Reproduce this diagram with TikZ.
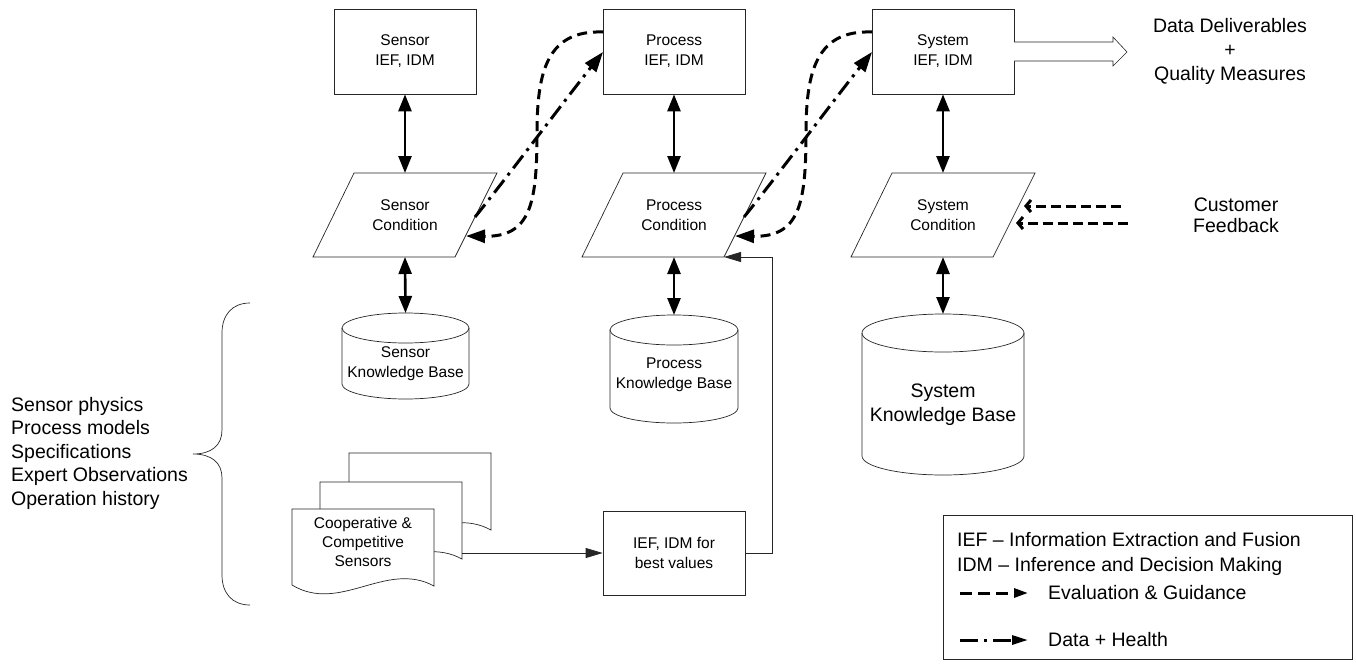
\documentclass[tikz,border=0pt]{standalone}
\usepackage{fontspec}
\setmainfont{Liberation Sans}
\usetikzlibrary{arrows.meta}
\begin{document}
\begin{tikzpicture}[x=1pt,y=-1pt,
  box/.style={draw=black!85, line width=0.7pt, fill=white, minimum width=142pt, minimum height=85pt, align=center, font=\fontsize{15.5}{20}\selectfont, inner sep=0pt},
  small/.style={align=center, font=\fontsize{15.5}{20}\selectfont, inner sep=0pt},
  big/.style={align=center, font=\fontsize{19.5}{24}\selectfont, inner sep=0pt},
  outl/.style={draw=black!85, line width=0.7pt},
  dbl/.style={line width=2.6pt, {Triangle[length=17pt,width=13pt]}-{Triangle[length=17pt,width=13pt]}},
  evalarr/.style={line width=3pt, dash pattern=on 10pt off 6pt, -{Triangle[length=19pt,width=13pt]}},
  dataarr/.style={line width=3pt, dash pattern=on 16pt off 6pt on 3pt off 6pt, -{Triangle[length=20pt,width=14pt]}},
  thinarr/.style={draw=black!85, line width=0.8pt, -{Triangle[length=17pt,width=10pt]}},
  fbarr/.style={line width=3pt, dash pattern=on 10pt off 5pt, -{Straight Barb[length=5pt,width=12pt]}},
]
\useasboundingbox (0,0) rectangle (1356,664);

% top boxes
\node[box] (sb) at (405,51.5) {Sensor\\IEF, IDM};
\node[box] (pb) at (674,51.5) {Process\\IEF, IDM};
\node[box] (yb) at (943,51.5) {System\\IEF, IDM};

% parallelograms
\draw[outl,fill=white] (354,173) -- (497,173) -- (455,257) -- (313,257) -- cycle;
\draw[outl,fill=white] (623,173) -- (766,173) -- (724,257) -- (582,257) -- cycle;
\draw[outl,fill=white] (892,173) -- (1035,173) -- (993,257) -- (851,257) -- cycle;
\node[small] (sc) at (405,215) {Sensor\\Condition};
\node[small] (pc) at (674,215) {Process\\Condition};
\node[small] (yc) at (943,215) {System\\Condition};
\coordinate (scT) at (405,173); \coordinate (scB) at (405,257);
\coordinate (pcT) at (674,173); \coordinate (pcB) at (674,257);
\coordinate (ycT) at (943,173); \coordinate (ycB) at (943,257);
\coordinate (pcBR) at (724,257);

% cylinders
\newcommand\kbcyl[5]{%
  \draw[outl,fill=white] ({#1-#3/2},{#2+#5}) -- ({#1-#3/2},{#2+#4-#5})
    arc[start angle=180,end angle=360,x radius={#3/2*1pt},y radius={#5*1pt}]
    -- ({#1+#3/2},{#2+#5})
    arc[start angle=0,end angle=180,x radius={#3/2*1pt},y radius={#5*1pt}] -- cycle;
  \draw[outl] ({#1-#3/2},{#2+#5})
    arc[start angle=180,end angle=360,x radius={#3/2*1pt},y radius={#5*1pt}];
}
\kbcyl{405.5}{313}{127}{86}{15}
\kbcyl{674}{315}{128}{108}{15}
\kbcyl{943}{314}{162}{161}{19}
\node[small] (skb) at (405.5,363.5) {Sensor\\Knowledge Base};
\node[small] (pkb) at (674,375) {Process\\Knowledge Base};
\node[big] (ykb) at (943,405) {System\\Knowledge Base};
\coordinate (skbT) at (405.5,313);
\coordinate (pkbT) at (674,315);
\coordinate (ykbT) at (943,314);

% vertical double arrows
\draw[dbl] (sb.south) -- (scT);
\draw[dbl] (pb.south) -- (pcT);
\draw[dbl] (yb.south) -- (ycT);
\draw[dbl] (scB) -- (skbT);
\draw[dbl] (pcB) -- (pkbT);
\draw[dbl] (ycB) -- (ykbT);

% S-curves
\coordinate (s1a) at (475,217); \coordinate (s1b) at (603,52);
\coordinate (s1c) at (603,32);  \coordinate (s1d) at (466,236);
\coordinate (s2a) at (744,217); \coordinate (s2b) at (872,52);
\coordinate (s2c) at (872,32);  \coordinate (s2d) at (735,236);
\draw[dataarr] (s1a) .. controls (505,180) and (565,100) .. (s1b);
\draw[evalarr] (s1c) .. controls (548,30) and (537,70) .. (537,133)
   .. controls (537,205) and (530,237) .. (s1d);
\draw[dataarr] (s2a) .. controls (774,180) and (834,100) .. (s2b);
\draw[evalarr] (s2c) .. controls (817,30) and (806,70) .. (806,133)
   .. controls (806,205) and (799,237) .. (s2d);

% hollow output arrow
\draw[outl,fill=white,line width=0.6pt] (1014,42) -- (1113,42) -- (1113,37) -- (1127,52) -- (1113,66) -- (1113,61) -- (1014,61);
\node[big] (dd) at (1230,51) {Data Deliverables\\+\\Quality Measures};

% customer feedback
\node[big, font=\fontsize{19.5}{21}\selectfont] (cf) at (1236,215) {Customer\\Feedback};
\coordinate (fb1s) at (1121,206); \coordinate (fb1e) at (1024,206);
\coordinate (fb2s) at (1128,223); \coordinate (fb2e) at (1016,223);
\draw[fbarr] (fb1s) -- (fb1e);
\draw[fbarr] (fb2s) -- (fb2e);

% brace and list
\draw[outl] (250,303) .. controls (232,303) and (222,315) .. (222,333) -- (222,430)
  .. controls (222,445) and (212,454) .. (193,454)
  .. controls (212,454) and (222,463) .. (222,478) -- (222,575)
  .. controls (222,593) and (232,605) .. (250,605);
\node[big, align=left, anchor=west, font=\fontsize{19.5}{23.5}\selectfont] (lst) at (11,453) {Sensor physics\\Process models\\Specifications\\Expert Observations\\Operation history};

% document stack
\newcommand\docpage[2]{%
  \draw[outl,fill=white] (#1,#2) -- ({#1+142},#2) -- ({#1+142},{#2+77})
    .. controls ({#1+94},{#2+51}) and ({#1+48},{#2+105}) .. (#1,{#2+76}) -- cycle;
}
\docpage{349}{453}
\docpage{320}{482}
\docpage{292}{509}
\node[small, font=\fontsize{15.5}{19}\selectfont] (docs) at (363,542) {Cooperative \&\\Competitive\\Sensors};
\coordinate (docout) at (462,553);

% IEF best values
\node[box, minimum height=84pt] (ib) at (674,553) {IEF, IDM for\\best values};
\draw[thinarr] (docout) -- (ib.west);
\draw[thinarr] (ib.east) -- (772,553) |- (pcBR);

% legend
\node[outl, minimum width=409pt, minimum height=144pt, inner sep=0pt] (leg) at (1147.5,587) {};
\node[big, anchor=west] (l1) at (957,540) {IEF -- Information Extraction and Fusion};
\node[big, anchor=west] (l2) at (957,566) {IDM -- Inference and Decision Making};
\coordinate (le1) at (960,593); \coordinate (le2) at (1028,593);
\coordinate (ld1) at (960,640); \coordinate (ld2) at (1028,640);
\draw[line width=3pt, dash pattern=on 12pt off 6pt, -{Triangle[length=14pt,width=9pt]}] (le1) -- (le2);
\draw[line width=3pt, dash pattern=on 18pt off 6pt on 3pt off 6pt, -{Triangle[length=16pt,width=9pt]}] (ld1) -- (ld2);
\node[big, anchor=west] (l3) at (1048,593) {Evaluation \& Guidance};
\node[big, anchor=west] (l4) at (1048,640) {Data + Health};
\end{tikzpicture}
\end{document}
